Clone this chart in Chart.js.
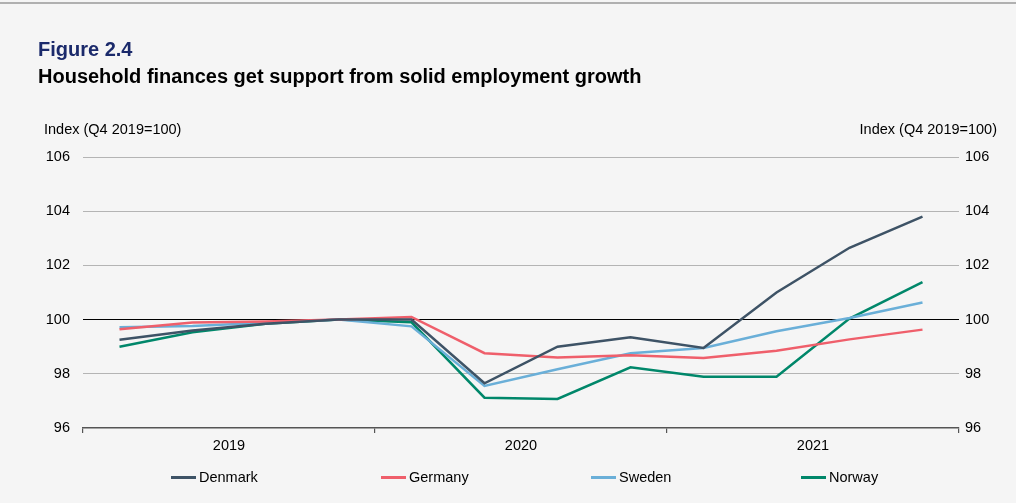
<!DOCTYPE html>
<html>
<head>
  <title>Figure 2.4</title>
  <style>
    html, body { margin: 0; padding: 0; background: #f5f5f5; }
    body { width: 1016px; height: 503px; position: relative; overflow: hidden; font-family: "Liberation Sans", Arial, sans-serif; }
    .topline { position: absolute; left: 0; top: 2px; width: 1016px; height: 2px; background: #b0b0b0; }
    .fig { position: absolute; left: 38px; top: 38px; font-size: 20px; line-height: 23px; font-weight: bold; color: #1b2a6b; }
    .sub { position: absolute; left: 38px; top: 65px; font-size: 20px; line-height: 23px; font-weight: bold; color: #000; }
    #chartBox { position: absolute; left: 0; top: 0; width: 1016px; height: 503px; }
    .legend { position: absolute; left: 171px; top: 469px; display: flex; }
    .legend .item { width: 210px; display: flex; align-items: center; font-size: 14.5px; color: #000; }
    .legend .swatch { width: 25px; height: 3px; margin-right: 3px; }
  </style>
  <script src="https://cdn.jsdelivr.net/npm/chart.js"></script>
</head>
<body>
  <div class="topline"></div>
  <div id="chartBox"><canvas id="chart" width="1016" height="503"></canvas></div>
  <div class="fig">Figure 2.4</div>
  <div class="sub">Household finances get support from solid employment growth</div>
  <div class="legend" id="legend"></div>

  <script>
    // quarters Q1 2019 .. Q4 2021
    const quarters = ['Q1 2019', 'Q2 2019', 'Q3 2019', 'Q4 2019',
                      'Q1 2020', 'Q2 2020', 'Q3 2020', 'Q4 2020',
                      'Q1 2021', 'Q2 2021', 'Q3 2021', 'Q4 2021'];
    const years = ['2019', '2020', '2021'];
    const yTicks = [96, 98, 100, 102, 104, 106];

    const denmark = [99.26, 99.6, 99.85, 100, 100.0, 97.65, 99.0, 99.35, 98.95, 101.0, 102.65, 103.8];
    const germany = [99.64, 99.89, 99.93, 100, 100.1, 98.76, 98.6, 98.68, 98.58, 98.85, 99.27, 99.63];
    const sweden  = [99.72, 99.76, 99.88, 100, 99.75, 97.55, 98.17, 98.76, 98.95, 99.57, 100.06, 100.63];
    const norway  = [99.0, 99.53, 99.85, 100, 99.9, 97.12, 97.07, 98.24, 97.89, 97.89, 100.04, 101.38];

    const seriesNames = ['Denmark', 'Germany', 'Sweden', 'Norway'];
    const seriesColors = ['#3e5366', '#ef5f6b', '#6aafd8', '#00876a'];
    const seriesData = [denmark, germany, sweden, norway];

    const font = { family: '"Liberation Sans", Arial, sans-serif', size: 14.5 };

    // HTML legend
    const legendEl = document.getElementById('legend');
    seriesNames.forEach((name, i) => {
      const item = document.createElement('div');
      item.className = 'item';
      const sw = document.createElement('div');
      sw.className = 'swatch';
      sw.style.background = seriesColors[i];
      item.appendChild(sw);
      item.appendChild(document.createTextNode(name));
      legendEl.appendChild(item);
    });

    // axis unit labels above both y axes
    const unitLabels = {
      id: 'unitLabels',
      afterDraw(chart) {
        const ctx = chart.ctx;
        ctx.save();
        ctx.font = font.size + 'px ' + font.family;
        ctx.fillStyle = '#000';
        ctx.textBaseline = 'middle';
        ctx.textAlign = 'left';
        ctx.fillText('Index (Q4 2019=100)', 44, 130);
        ctx.textAlign = 'right';
        ctx.fillText('Index (Q4 2019=100)', 997, 130);
        ctx.restore();
      }
    };

    const ctx = document.getElementById('chart').getContext('2d');
    new Chart(ctx, {
      type: 'line',
      data: {
        labels: quarters,
        datasets: seriesData.map((d, i) => ({
          label: seriesNames[i],
          data: d,
          borderColor: seriesColors[i],
          backgroundColor: seriesColors[i],
          borderWidth: 2.5,
          pointRadius: 0,
          tension: 0,
          fill: false
        }))
      },
      options: {
        responsive: false,
        animation: false,
        events: [],
        layout: { padding: { top: 157, left: 0, right: 0, bottom: 0 } },
        plugins: { legend: { display: false }, tooltip: { enabled: false } },
        scales: {
          x: { display: false, offset: true },
          year: {
            type: 'category',
            labels: years,
            position: 'bottom',
            offset: true,
            grid: { offset: true, drawOnChartArea: false, tickLength: 5, color: '#555', lineWidth: 1.2 },
            border: { color: '#555', width: 1.5 },
            ticks: { color: '#000', font: font, padding: 4, maxRotation: 0 },
            afterFit: s => { s.height = 75; }
          },
          y: {
            position: 'left',
            min: 96, max: 106,
            afterBuildTicks: s => { s.ticks = yTicks.map(v => ({ value: v })); },
            grid: {
              drawTicks: false,
              lineWidth: 1,
              color: c => c.tick.value === 100 ? '#000' : (c.tick.value === 96 ? 'rgba(0,0,0,0)' : '#b4b4b4')
            },
            border: { display: false },
            ticks: { color: '#000', font: font, padding: 13 },
            afterFit: s => { s.width = 83; }
          },
          y2: {
            position: 'right',
            min: 96, max: 106,
            afterBuildTicks: s => { s.ticks = yTicks.map(v => ({ value: v })); },
            grid: { drawOnChartArea: false, drawTicks: false },
            border: { display: false },
            ticks: { color: '#000', font: font, padding: 6 },
            afterFit: s => { s.width = 57; }
          }
        }
      },
      plugins: [unitLabels]
    });
  </script>
</body>
</html>
